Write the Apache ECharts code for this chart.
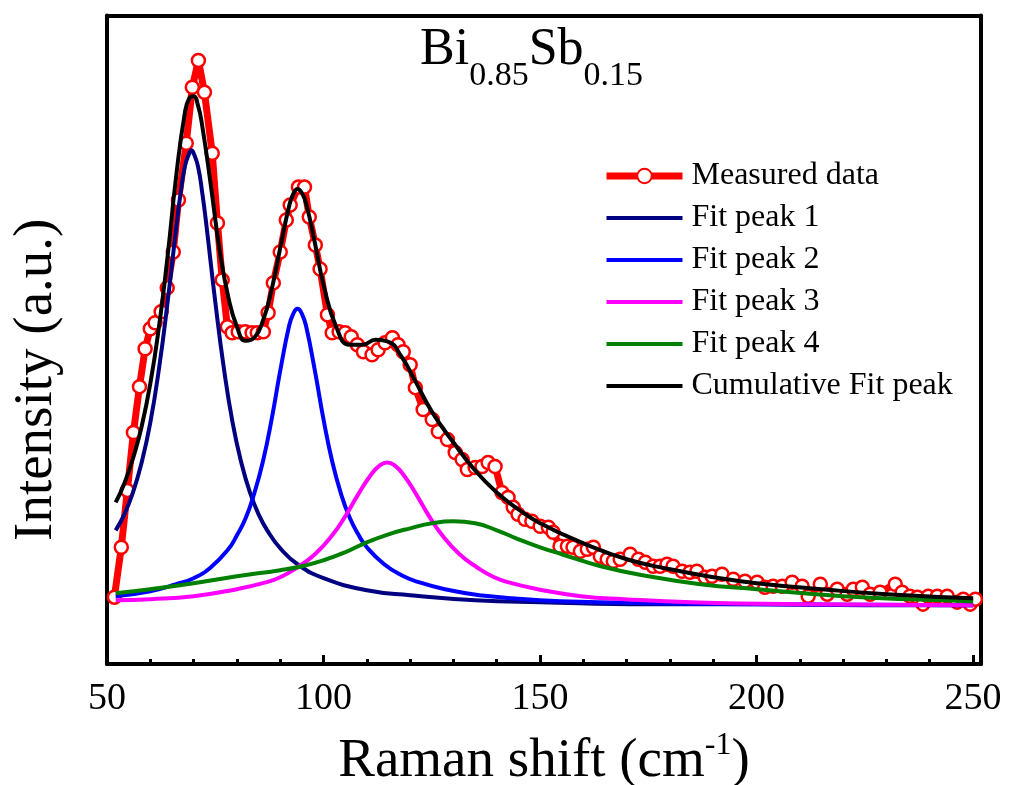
<!DOCTYPE html>
<html>
<head>
<meta charset="utf-8">
<script src="https://cdn.jsdelivr.net/npm/echarts@6/dist/echarts.min.js"></script>
<style>
html,body{margin:0;padding:0;background:#fff;}
#chart{width:1010px;height:785px;}
</style>
</head>
<body>
<div id="chart"></div>
<script>
// ---------------- data ----------------
const seriesNames = ['Measured data', 'Fit peak 1', 'Fit peak 2', 'Fit peak 3', 'Fit peak 4', 'Cumulative Fit peak'];
const xTickLabels = [50, 100, 150, 200, 250];

const measuredX = [51.7,53.3,54.7,56.1,57.5,58.8,60.0,61.1,62.5,63.9,
  65.3,66.5,68.3,69.7,71.1,72.5,74.3,75.5,76.6,77.8,
  78.9,80.3,81.9,83.5,84.7,86.1,87.2,88.4,90.0,91.4,
  92.3,94.2,95.6,96.7,98.1,99.2,100.9,102.0,103.6,105.0,
  106.4,107.8,109.2,111.2,112.6,114.2,115.9,117.2,118.4,120.0,
  121.2,123.0,125.1,126.5,128.6,130.4,132.0,133.2,135.0,136.6,
  138.0,139.6,141.2,142.6,143.8,144.9,146.5,148.1,150.0,151.9,
  153.0,154.6,156.3,157.6,159.3,160.9,162.3,163.9,165.5,166.9,
  168.5,170.8,172.7,174.3,176.1,177.7,179.3,180.7,182.8,184.6,
  186.2,188.1,189.7,192.0,194.6,197.3,200.1,201.9,203.8,205.9,
  208.2,210.5,211.9,214.7,216.3,218.6,220.9,222.3,224.4,226.2,
  228.5,232.0,233.6,235.4,237.1,238.4,239.6,241.7,244.0,246.3,
  247.7,249.3,250.5];
const measuredY = [67,117,174,232,278,316,336,342,353,377,
  413,465,522,578,605,573,512,442,385,338,
  332,333,333,332,332,333,352,382,413,445,
  460,478,478,448,420,396,350,332,333,332,
  328,320,313,310,315,322,327,320,313,300,
  277,255,245,233,225,212,205,195,197,198,
  202,198,172,167,157,150,145,143,138,137,
  132,118,118,117,113,115,117,108,105,103,
  105,110,105,102,98,98,100,98,93,92,
  93,87,88,90,85,83,82,77,78,78,
  82,78,68,80,70,75,70,75,77,70,
  72,80,72,68,67,60,68,68,68,62,
  65,60,65];

const peak1X = [52,54,56,58,60,62,64,66,67,68,69,69.5,70,71,72,73,75,77,79,81,83,85,87,90,94,100,110,120,135,150,175,200,225,250];
const peak1Y = [134,150,172,202,242,296,363,438,472,499,512,515,512,499,472,438,363,296,242,202,172,150,134,116,100,86,74,69,64,62,60,60,59,59];

const peak2X = [52,60,66,70,74,78,80,82,84,86,88,90,92,93,94,95,96,98,100,102,104,106,108,110,114,118,122,128,136,150,175,200,250];
const peak2Y = [68,73,80,86,97,115,129,146,171,203,245,294,338,351,356,351,338,294,245,203,171,147,130,117,100,89,82,75,69,64,61,60,59];

const peak3X = [52,60,70,80,86,90,94,98,102,105,108,111,113,114.7,116.4,118.4,121.4,124.4,127.4,131.4,135.4,139.4,143.4,149.4,159.4,169.4,185,210,250];
const peak3Y = [64,65,68,75,81,87,97,110,129,148,170,190,199,202,199,190,170,148,129,110,97,87,81,75,68,65,62,60,59];

const peak4X = [52,60,70,80,90,95,100,105,110,115,120,125,130,135,140,145,150,155,164,175,187,200,220,235,250];
const peak4Y = [71,75,81,88,94,98,104,112,122,130,136,141,143,141,134,125,117,110,98,88,80,75,68,65,63];

const cumX = [52,54,56,58,60,62,64,66,68,69,70,71,72,74,76,78,80,82,84,86,88,90,92,93,94,95,96,98,100,103,106,109,112,115,118,121,125,130,135,140,145,150,160,170,180,190,200,215,230,250];
const cumY = [162,181,206,238,281,338,409,490,553,567,569,560,539,479,415,368,338,324,327,344,375,417,458,471,476,472,461,422,380,337,320,320,325,323,308,285,253,222,194,172,155,141,121,105,95,87,81,75,70,66];

// ---------------- build ----------------
const FONT = 'Liberation Serif';
const zip = (xs, ys) => xs.map((x, i) => [x, ys[i]]);
const colors = ['#ff0000', '#000080', '#0000ff', '#ff00ff', '#008000', '#000000'];
const fitData = [zip(peak1X, peak1Y), zip(peak2X, peak2Y), zip(peak3X, peak3Y), zip(peak4X, peak4Y), zip(cumX, cumY)];

const series = [{
  name: seriesNames[0], type: 'line', xAxisIndex: 0, yAxisIndex: 0,
  data: zip(measuredX, measuredY),
  symbol: 'circle', symbolSize: 13, showAllSymbol: true,
  itemStyle: { color: '#ffffff', borderColor: colors[0], borderWidth: 2.5 },
  lineStyle: { color: colors[0], width: 7 },
  z: 2
}];
fitData.forEach((d, i) => {
  series.push({
    name: seriesNames[i + 1], type: 'line', xAxisIndex: 0, yAxisIndex: 0,
    data: d, symbol: 'none', smooth: 0.5,
    itemStyle: { color: colors[i + 1] },
    lineStyle: { color: colors[i + 1], width: 4 },
    z: 3 + i
  });
});

const legendData = seriesNames.map((n, i) => i === 0
  ? { name: n, lineStyle: { width: 7, color: colors[0] } }
  : { name: n, itemStyle: { opacity: 0 }, lineStyle: { width: 4, color: colors[i] } });

const frameLine = { show: true, onZero: false, lineStyle: { color: '#000', width: 4 } };

const option = {
  animation: false,
  backgroundColor: '#ffffff',
  title: {
    text: '{b|Bi}{s|0.85}{b|Sb}{s|0.15}',
    left: 420, top: 24, padding: 0,
    textStyle: {
      fontWeight: 'normal',
      rich: {
        b: { fontSize: 52, fontWeight: 'normal', fontFamily: FONT, color: '#000', lineHeight: 52, verticalAlign: 'top' },
        s: { fontSize: 34, fontWeight: 'normal', fontFamily: FONT, color: '#000', lineHeight: 34, verticalAlign: 'top', padding: [35, 0, 0, 0] }
      }
    }
  },
  legend: {
    orient: 'vertical', left: 598, top: 155,
    itemWidth: 76, itemHeight: 18, itemGap: 10,
    data: legendData,
    textStyle: { fontSize: 32, fontFamily: FONT, color: '#000', lineHeight: 32, padding: [0, 0, 0, 4] }
  },
  grid: [
    { left: 107, right: 29, top: 15.5, bottom: 121, outerBoundsMode: 'none', containLabel: false },
    { left: 107, right: 37, top: 15.5, bottom: 121, outerBoundsMode: 'none', containLabel: false }
  ],
  xAxis: [
    {
      gridIndex: 0, type: 'value', min: 50, max: 251.8, position: 'bottom',
      axisLine: frameLine, axisTick: { show: false }, axisLabel: { show: false }, splitLine: { show: false },
      name: '{a|Raman shift (cm}{sup|-1}{a|)}', nameLocation: 'middle', nameGap: 66,
      nameTextStyle: {
        rich: {
          a: { fontSize: 55, fontFamily: FONT, color: '#000', lineHeight: 58, verticalAlign: 'top', padding: [4, 0, 0, 0] },
          sup: { fontSize: 32, fontFamily: FONT, color: '#000', lineHeight: 32, verticalAlign: 'top' }
        }
      }
    },
    {
      gridIndex: 0, type: 'value', min: 50, max: 251.8, position: 'top',
      axisLine: frameLine, axisTick: { show: false }, axisLabel: { show: false }, splitLine: { show: false }
    },
    {
      gridIndex: 1, type: 'value', min: 50, max: 250, interval: 50, position: 'bottom',
      axisLine: { show: false, onZero: false },
      axisTick: { show: true, inside: true, length: 9, lineStyle: { color: '#000', width: 3 } },
      minorTick: { show: true, splitNumber: 5, length: 5, lineStyle: { color: '#000', width: 3 } },
      axisLabel: {
        fontSize: 38, fontFamily: FONT, color: '#000', margin: 16,
        formatter: v => (xTickLabels.indexOf(v) >= 0 ? String(v) : '')
      },
      splitLine: { show: false }
    }
  ],
  yAxis: [
    {
      gridIndex: 0, type: 'value', min: 0, max: 650, position: 'left',
      axisLine: frameLine, axisTick: { show: false }, axisLabel: { show: false }, splitLine: { show: false },
      name: 'Intensity (a.u.)', nameLocation: 'middle', nameGap: 43, nameRotate: 90,
      nameTextStyle: { fontSize: 55, fontFamily: FONT, color: '#000', padding: [0, 80, 0, 0] }
    },
    {
      gridIndex: 0, type: 'value', min: 0, max: 650, position: 'right',
      axisLine: frameLine, axisTick: { show: false }, axisLabel: { show: false }, splitLine: { show: false }
    },
    { gridIndex: 1, type: 'value', min: 0, max: 650, show: false }
  ],
  series: series
};

const chart = echarts.init(document.getElementById('chart'), null, { renderer: 'canvas' });
chart.setOption(option);
</script>
</body>
</html>
